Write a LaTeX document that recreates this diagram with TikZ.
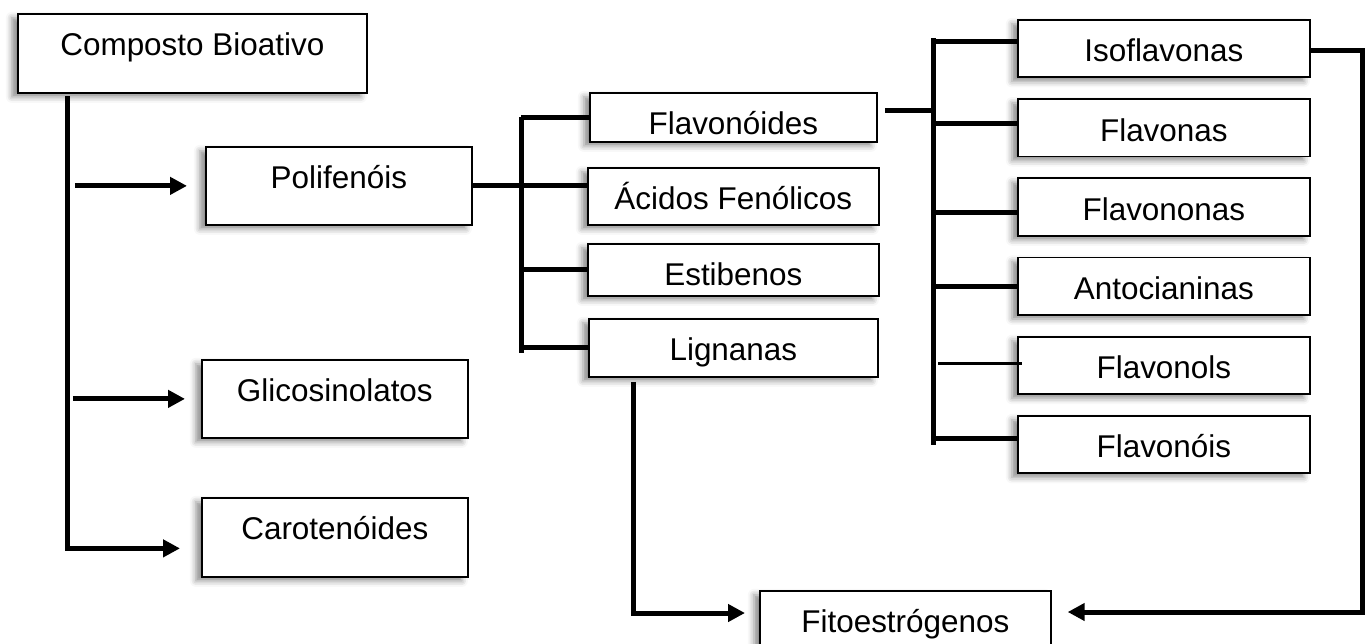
\documentclass[tikz,border=0pt]{standalone}
\usepackage{fontspec}
\setmainfont{Liberation Sans}
\usetikzlibrary{arrows.meta, shadows.blur}
\newcommand{\boxcolor}{white}
\newcommand{\rowgap}{79.2}

\begin{document}
\begin{tikzpicture}[x=0.02cm, y=-0.02cm, >={Triangle[length=0.34cm, width=0.34cm]},
    box/.style={draw, line width=1pt, fill=\boxcolor, anchor=north west, inner sep=0pt,
        text height=0.84cm, font=\fontsize{17.9pt}{21pt}\selectfont,
        blur shadow={shadow xshift=-0.12cm, shadow yshift=-0.08cm, shadow blur radius=0.12cm, shadow opacity=45}},
    link/.style={line width=0.1cm}]
        \useasboundingbox (0,0) rectangle (1365,643);

        \node[box, minimum width=6.98cm, text depth=0.74cm] (comp) at (17,13) {Composto Bioativo};
        \node[box, minimum width=5.32cm, text depth=0.72cm] (poli) at (205,146) {Polifenóis};
        \node[box, minimum width=5.32cm, text depth=0.72cm] (glic) at (201,359) {Glicosinolatos};
        \node[box, minimum width=5.32cm, text depth=0.74cm] (carot) at (201,497) {Carotenóides};

        \node[box, minimum width=5.74cm, text depth=0.14cm] (flav) at (589,92) {Flavonóides};
        \node[box, minimum width=5.82cm, text depth=0.30cm] (acid) at (587,167) {Ácidos Fenólicos};
        \node[box, minimum width=5.82cm, text depth=0.20cm] (esti) at (587,243) {Estibenos};
        \node[box, minimum width=5.78cm, text depth=0.32cm] (lign) at (588,318) {Lignanas};

        % subclasses of the flavonoids
        \foreach \n/\t [count=\i from 0] in {iso/Isoflavonas, fona/Flavonas, fnon/Flavononas, anto/Antocianinas, fols/Flavonols, fois/Flavonóis}
            \node[box, minimum width=5.84cm, text depth=0.31cm] (\n) at (1017, {19+\rowgap*\i}) {\t};

        \node[box, minimum width=5.82cm, text depth=0.32cm] (fito) at (759,590) {Fitoestrógenos};

        \coordinate (trunk) at (67,96);
        \coordinate (mtop) at (521,117);
        \coordinate (mbot) at (521,353);
        \coordinate (rtop) at (933,38);
        \coordinate (rbot) at (933,445);
        \coordinate (fjoin) at (933,110);
        \coordinate (lcorner) at (633,613);
        \coordinate (rcorner) at (1362,612);

        % left trunk with its arrows
        \draw[link, ->, shorten >=0.42cm] (trunk) |- ([yshift=-0.22cm]carot.west);
        \draw[link, ->, shorten <=0.16cm, shorten >=0.36cm] (trunk |- poli.west) -- (poli.west);
        \draw[link, ->, shorten <=0.12cm, shorten >=0.32cm] (trunk |- glic.west) -- (glic.west);

        % polyphenol bracket
        \draw[link] (poli.east) -- (poli.east -| acid.west);
        \draw[link] (mtop) -- (mbot);
        \draw[link] (mtop) -- (mtop -| flav.west);
        \draw[link] (esti.west -| mtop) -- (esti.west);
        \draw[link] (lign.west -| mtop) -- (lign.west);

        % flavonoid bracket
        \draw[link, shorten >=0.14cm] (fjoin) -- (fjoin -| flav.east);
        \draw[link] (rtop) -- (rbot);
        \foreach \n/\dy in {iso/0.14, fona/0.08, fnon/-0.10, anto/0, fois/0.12} {
            \path ([yshift=\dy cm]\n.west) coordinate (tip);
            \draw[link] (tip -| rtop) -- (tip);
        }
        \path ([yshift=0.04cm]fols.west) coordinate (tip);
        \draw[line width=0.07cm, shorten <=0.1cm, shorten >=-0.1cm] (tip -| rtop) -- (tip);

        % both routes to the phytoestrogens
        \draw[link, ->, shorten >=0.32cm] ([yshift=-0.04cm]iso.east) -| (rcorner) -- (rcorner -| fito.east);
        \draw[link, ->, shorten <=0.08cm, shorten >=0.28cm] (lcorner |- lign.south) -- (lcorner) -- (lcorner -| fito.west);
    \end{tikzpicture}
\end{document}
